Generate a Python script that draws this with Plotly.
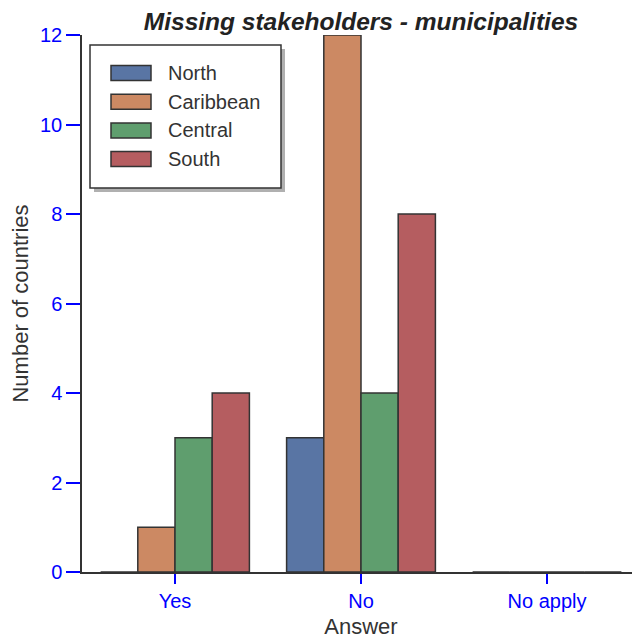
import plotly.graph_objects as go

categories = ["Yes", "No", "No apply"]
north = [0, 3, 0]
caribbean = [1, 12, 0]
central = [3, 4, 0]
south = [4, 8, 0]
y_ticks = [0, 2, 4, 6, 8, 10, 12]

series = [
    ("North", north, "#5975a4"),
    ("Caribbean", caribbean, "#cc8963"),
    ("Central", central, "#5f9e6e"),
    ("South", south, "#b55d60"),
]

fig = go.Figure()
for name, vals, col in series:
    fig.add_trace(go.Bar(
        x=categories, y=vals, name=name, showlegend=False,
        marker=dict(color=col, line=dict(color="#333333", width=1.5)),
    ))

# page has 8px body margin; work in screen coords
OFF = 8
W, H = 632, 636
L, R, T, B = 82 - OFF, 0, 35 - OFF, 72
pw = W - L - R
ph = H - T - B

def px(sx):
    return (sx - OFF - L) / pw

def py(sy):
    return (H - B - (sy - OFF)) / ph

# legend frame + shadow
fig.add_shape(type="rect", xref="paper", yref="paper",
              x0=px(94), x1=px(285), y0=py(192), y1=py(49),
              fillcolor="#b0b0b0", line=dict(width=0), layer="below")
fig.add_shape(type="rect", xref="paper", yref="paper",
              x0=px(90), x1=px(281), y0=py(188), y1=py(45),
              fillcolor="white", line=dict(color="#333333", width=1.5), layer="below")

# legend entries
for i, (name, vals, col) in enumerate(series):
    cy = 73 + i * 28.7
    fig.add_shape(type="rect", xref="paper", yref="paper",
                  x0=px(111), x1=px(151), y0=py(cy + 7.5), y1=py(cy - 7.5),
                  fillcolor=col, line=dict(color="#333333", width=1.5), layer="below")
    fig.add_annotation(xref="paper", yref="paper", x=px(166), y=py(cy),
                       xanchor="left", yanchor="middle", showarrow=False,
                       text=name, font=dict(size=20, color="#333333"))

fig.update_layout(
    width=W, height=H,
    margin=dict(l=L, r=R, t=T, b=B),
    paper_bgcolor="white", plot_bgcolor="white",
    barmode="group", bargap=0.2, bargroupgap=0,
    showlegend=False,
    font=dict(family="Liberation Sans, Arial, sans-serif", color="#333333"),
    title=dict(text="<b><i>Missing stakeholders - municipalities</i></b>",
               xref="paper", x=px(361), xanchor="center",
               y=1 - (21.5 - OFF) / H, yanchor="middle",
               font=dict(size=24.5, color="#222222")),
    xaxis=dict(
        range=[-0.5, 2.5], showline=True, linecolor="#333333", linewidth=1.5,
        ticks="outside", tickcolor="#0000ff", ticklen=10, tickwidth=1.5,
        tickfont=dict(size=20, color="#0000ff"),
        title=dict(text="Answer", font=dict(size=22, color="#333333"), standoff=8),
        showgrid=False, zeroline=False,
    ),
    yaxis=dict(
        range=[0, 12], tickvals=y_ticks, showline=True, linecolor="#333333", linewidth=1.5,
        ticks="outside", tickcolor="#0000ff", ticklen=14, tickwidth=1.5,
        tickfont=dict(size=20, color="#0000ff"),
        title=dict(text="Number of countries", font=dict(size=22, color="#333333"), standoff=10),
        showgrid=False, zeroline=False,
    ),
)

fig.write_html("out.html")
